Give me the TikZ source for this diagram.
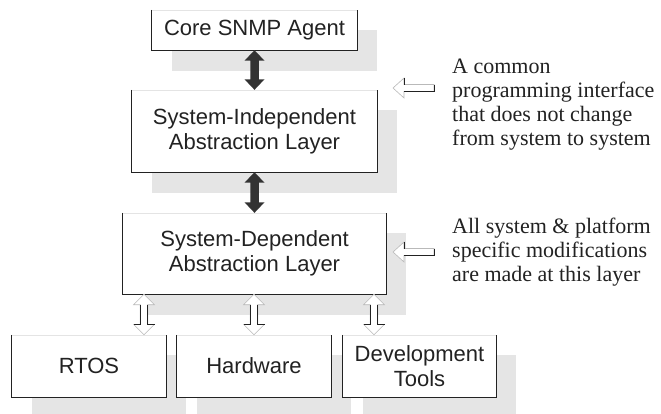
\documentclass[tikz,border=0pt]{standalone}
\usepackage{fontspec}
\setmainfont{Liberation Serif}
\setsansfont{Liberation Sans}
\usetikzlibrary{backgrounds,calc}
\definecolor{shadowgray}{RGB}{229,229,229}
\definecolor{ink}{RGB}{34,34,34}
\definecolor{darr}{RGB}{51,51,51}
\definecolor{lightedge}{RGB}{185,185,185}
\definecolor{topedge}{RGB}{228,228,228}
% style, top, bottom, head half width, head length, shaft half width
\newcommand\mydblarrow[6]{%
 \path[#1] let \p1=(#2), \p2=(#3) in (\x1,\y1) -- (\x1+#4,\y1-#5) -- (\x1+#6,\y1-#5) -- (\x1+#6,\y2+#5) -- (\x1+#4,\y2+#5) -- (\x1,\y2) -- (\x1-#4,\y2+#5) -- (\x1-#6,\y2+#5) -- (\x1-#6,\y1-#5) -- (\x1-#4,\y1-#5) -- cycle;}
\newcommand\myhollowv[2]{%
 \mydblarrow{fill=white,draw=lightedge,line width=0.6pt}{#1}{#2}{10.5pt}{10.5pt}{3.75pt}
 \draw[ink,line width=0.7pt] let \p1=(#1), \p2=(#2) in
   (\x1+3.75pt,\y1-10.5pt) -- (\x1+3.75pt,\y2+10.5pt) -- (\x1+10.5pt,\y2+10.5pt)
   (\x1-3.75pt,\y1-10.5pt) -- (\x1-3.75pt,\y2+10.5pt) -- (\x1-10.5pt,\y2+10.5pt);}
% tail, tip (pointing left)
\newcommand\myhollowl[2]{%
 \path[fill=white,draw=lightedge,line width=0.6pt] let \p1=(#1), \p2=(#2) in
   (\x2,\y2) -- (\x2+11pt,\y2+10pt) -- (\x2+11pt,\y2+3.5pt) -- (\x1,\y2+3.5pt) -- (\x1,\y2-3.5pt) -- (\x2+11pt,\y2-3.5pt) -- (\x2+11pt,\y2-10pt) -- cycle;
 \draw[ink,line width=0.7pt] let \p1=(#1), \p2=(#2) in
   (\x2+11pt,\y2+10pt) -- (\x2+11pt,\y2+3.5pt) (\x1,\y2+3.5pt) -- (\x1,\y2-3.5pt) -- (\x2+11pt,\y2-3.5pt);}
\tikzset{
 box/.style={fill=white, inner sep=0pt, font=\sffamily\fontsize{22}{25}\selectfont, text=ink, align=center},
 note/.style={inner sep=0pt, font=\fontsize{22}{24.5}\selectfont, text=ink, anchor=base west},
 edge/.style={ink, line width=0.9pt},
 topline/.style={topedge, line width=0.6pt}
}
\begin{document}
\begin{tikzpicture}[x=1pt,y=-1pt]
\useasboundingbox (0,0) rectangle (661,413);
% boxes
\node[box, minimum width=205pt, minimum height=40pt] (core) at (254.5,30) {Core SNMP Agent};
\node[box, minimum width=245pt, minimum height=82pt] (si) at (254.5,131) {System-Independent\\Abstraction Layer};
\node[box, minimum width=263pt, minimum height=81pt] (sd) at (254.5,253.5) {System-Dependent\\Abstraction Layer};
\node[box, minimum width=154pt, minimum height=62pt] (rtos) at (89,366) {RTOS};
\node[box, minimum width=154pt, minimum height=62pt] (hw) at (254,366) {Hardware};
\node[box, minimum width=153pt, minimum height=62pt] (dev) at (419.5,366) {Development\\Tools};
% shadows
\begin{pgfonlayer}{background}
\fill[white] (0,0) rectangle (661,413);
\foreach \n in {core,si,sd,rtos,hw,dev}
  \fill[shadowgray] ([shift={(20,20.5)}]\n.north west) rectangle ([shift={(20,20.5)}]\n.south east);
\end{pgfonlayer}
% box edges
\foreach \n in {core,si,sd,rtos,hw,dev}{
  \draw[topline] (\n.north west) -- (\n.north east);
  \draw[edge] (\n.north west) -- (\n.south west) -- (\n.south east) -- (\n.north east);
}
% dark double arrows
\mydblarrow{fill=darr}{core.south}{si.north}{10pt}{10.5pt}{4.25pt}
\mydblarrow{fill=darr}{si.south}{sd.north}{10pt}{10.5pt}{4.25pt}
% hollow double arrows
\coordinate (ax1) at (144,0);
\coordinate (ax2) at (254,0);
\coordinate (ax3) at (374,0);
\myhollowv{sd.south -| ax1}{rtos.north -| ax1}
\myhollowv{sd.south -| ax2}{hw.north -| ax2}
\myhollowv{sd.south -| ax3}{dev.north -| ax3}
% side notes
\node[note] (c1) at (452,73) {A common};
\node[note] (c2) at (452,97) {programming interface};
\node[note] (c3) at (452,121) {that does not change};
\node[note] (c4) at (452,145) {from system to system};
\node[note] (d1) at (452,233) {All system \& platform};
\node[note] (d2) at (452,257) {specific modifications};
\node[note] (d3) at (452,281) {are made at this layer};
% pointer arrows
\coordinate (tipA) at (393,88);
\coordinate (tailA) at (434,88);
\coordinate (tipB) at (393,252);
\coordinate (tailB) at (434,252);
\myhollowl{tailA}{tipA}
\myhollowl{tailB}{tipB}
\end{tikzpicture}
\end{document}
